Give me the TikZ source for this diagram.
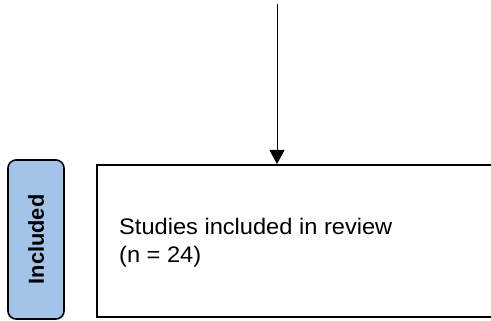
\documentclass[tikz,border=0pt]{standalone}
\usepackage{fontspec}
\setmainfont{Liberation Sans}
\usetikzlibrary{arrows.meta}
\begin{document}
\begin{tikzpicture}[x=1pt,y=-1pt,
  phase/.style={draw=black,line width=1.6pt,rounded corners=8pt,fill={rgb,255:red,163;green,196;blue,232}},
  stage/.style={draw=black,line width=1.6pt},
  flow/.style={line width=0.8pt,-{Triangle[width=15pt,length=14pt]}}]
\useasboundingbox (0,0) rectangle (491,321);
\node[phase,minimum width=56pt,minimum height=159pt,inner sep=0pt] (inc) at (36,239.5) {};
\node[rotate=90,font=\fontsize{21.8}{26}\selectfont\bfseries] (inclabel) at (inc.center) {Included};
\node[stage,minimum width=400pt,minimum height=152pt,inner sep=0pt,anchor=north west] (studies) at (96,164) {};
\node[anchor=north west,align=left,font=\fontsize{22.5}{28}\selectfont,inner sep=0pt] (studtext) at (119,217.5) {\scalebox{1.05}[1]{Studies included in review}\\\scalebox{1.05}[1]{(n = 24)}};
\coordinate (top) at (277,4);
\draw[flow] (top) -- (studies.north west -| top);
\end{tikzpicture}
\end{document}
